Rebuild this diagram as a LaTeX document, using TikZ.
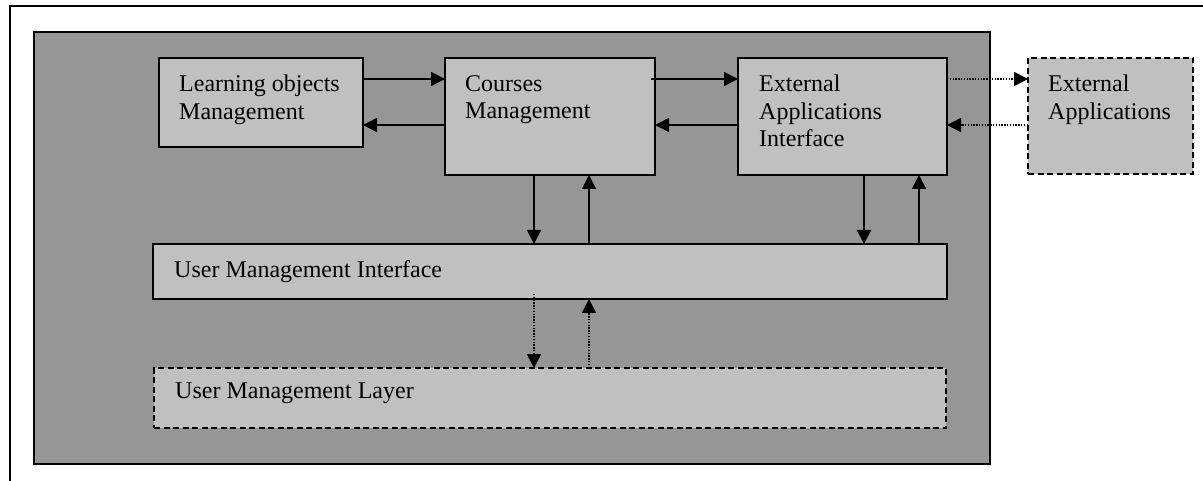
\documentclass[tikz,border=0pt]{standalone}
\usepackage{fontspec}
\setmainfont{Liberation Serif}
\usetikzlibrary{arrows.meta,calc}
\definecolor{darkbg}{RGB}{150,150,150}
\definecolor{lightbox}{RGB}{192,192,192}
\begin{document}
\begin{tikzpicture}[x=1pt,y=-1pt,
  box/.style={draw=black,fill=lightbox,line width=1.8pt,anchor=north west,inner sep=0pt,outer sep=0pt},
  dbox/.style={box,dash pattern=on 6pt off 3.5pt},
  txt/.style={anchor=north west,inner sep=0pt,align=left,font=\fontsize{24}{27.5}\selectfont},
  arr/.style={line width=1.6pt,-{Triangle[length=14pt,width=14pt]}},
  darr/.style={arr,dash pattern=on 1.4pt off 1.4pt}]
\useasboundingbox (0,0) rectangle (1203,481);
% outer frame
\draw[line width=2pt] (9.5,481) -- (9.5,6.5) -- (1203,6.5);
% main grey area
\node[draw=black,fill=darkbg,line width=2pt,anchor=north west,inner sep=0pt,minimum width=956pt,minimum height=432pt] (main) at (33,31) {};
% boxes
\node[box,minimum width=204pt,minimum height=89pt] (lom) at (159,58) {};
\node[box,minimum width=210pt,minimum height=117pt] (cm) at (445,58) {};
\node[box,minimum width=209pt,minimum height=117pt] (eai) at (738,58) {};
\node[dbox,minimum width=165pt,minimum height=116pt] (ea) at (1028,58) {};
\node[box,minimum width=794pt,minimum height=55pt] (umi) at (153,244) {};
\node[dbox,minimum width=792pt,minimum height=60pt] (uml) at (154,368) {};
% texts
\node[txt] (tlom) at ($(lom.north west)+(20,17)$) {Learning objects\\Management};
\node[txt] (tcm) at ($(cm.north west)+(20,17)$) {Courses\\Management};
\node[txt] (teai) at ($(eai.north west)+(21,17)$) {External\\Applications\\Interface};
\node[txt] (tea) at ($(ea.north west)+(20,17)$) {External\\Applications};
\node[txt] (tumi) at ($(umi.north west)+(21,16)$) {User Management Interface};
\node[txt] (tuml) at ($(uml.north west)+(21,15)$) {User Management Layer};
% guide coordinates
\coordinate (r1) at (0,79);
\coordinate (r2) at (0,125);
\coordinate (c1) at (534,0);
\coordinate (c2) at (589,0);
\coordinate (c3) at (864,0);
\coordinate (c4) at (919,0);
% horizontal connectors
\draw[arr] (lom.east |- r1) -- (cm.west |- r1);
\draw[arr] (cm.west |- r2) -- (lom.east |- r2);
\draw[arr] ($(cm.east |- r1)+(-4,0)$) -- (eai.west |- r1);
\draw[arr] (eai.west |- r2) -- (cm.east |- r2);
\draw[darr] (eai.east |- r1) -- (ea.west |- r1);
\draw[darr] (ea.west |- r2) -- (eai.east |- r2);
% vertical connectors
\draw[arr] (cm.south -| c1) -- (umi.north -| c1);
\draw[arr] (umi.north -| c2) -- (cm.south -| c2);
\draw[arr] (eai.south -| c3) -- (umi.north -| c3);
\draw[arr] (umi.north -| c4) -- (eai.south -| c4);
\draw[darr] ($(umi.south -| c1)+(0,-5)$) -- (uml.north -| c1);
\draw[darr] (uml.north -| c2) -- (umi.south -| c2);
\end{tikzpicture}
\end{document}
